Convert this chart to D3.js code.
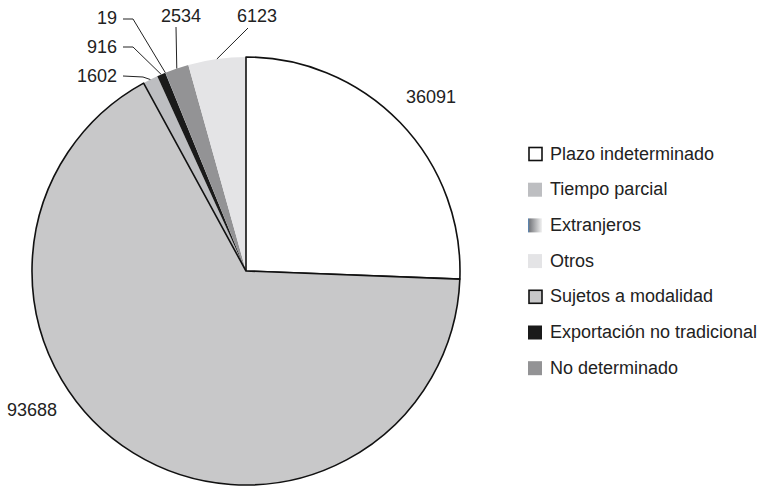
<!DOCTYPE html>
<html><head><meta charset="utf-8">
<script src="https://cdn.jsdelivr.net/npm/d3@7"></script>
<style>body{margin:0;background:#fff}svg{display:block;font-family:"Liberation Sans",Arial,sans-serif}</style>
</head><body><svg id="c" width="765" height="489"></svg>
<script>
// pie order (clockwise from 12 o'clock)
const categories = ["Plazo indeterminado","Sujetos a modalidad","Tiempo parcial","Exportación no tradicional","Extranjeros","No determinado","Otros"];
const values = [36091, 93688, 1602, 916, 19, 2534, 6123];
const legendOrder = ["Plazo indeterminado","Tiempo parcial","Extranjeros","Otros","Sujetos a modalidad","Exportación no tradicional","No determinado"];

const fills = {
  "Plazo indeterminado":"#ffffff",
  "Sujetos a modalidad":"#c8c8c9",
  "Tiempo parcial":"#bdbec1",
  "Exportación no tradicional":"#1a1a1a",
  "Extranjeros":"url(#gExt)",
  "No determinado":"#939395",
  "Otros":"#e4e4e6"
};
const stroked = {"Plazo indeterminado":true,"Sujetos a modalidad":true};

const svg = d3.select("#c");
const defs = svg.append("defs");
const g = defs.append("linearGradient").attr("id","gExt").attr("x1","0").attr("x2","1").attr("y1","0").attr("y2","0");
g.append("stop").attr("offset","0%").attr("stop-color","#4f86c0");
g.append("stop").attr("offset","12%").attr("stop-color","#7a7c80");
g.append("stop").attr("offset","100%").attr("stop-color","#f2f2f2");

const cx = 246, cy = 271, R = 214;
const data = categories.map((c,i)=>({cat:c, v:values[i]}));
const pie = d3.pie().sort(null).value(d=>d.v).startAngle(0).endAngle(2*Math.PI);
const arcs = pie(data);
const arc = d3.arc().innerRadius(0).outerRadius(R);
const pg = svg.append("g").attr("transform",`translate(${cx},${cy})`);

// unstroked slices first, stroked on top
const order = arcs.slice().sort((a,b)=>(stroked[a.data.cat]?1:0)-(stroked[b.data.cat]?1:0));
pg.selectAll("path.s").data(order).join("path").attr("class","s")
  .attr("d",arc)
  .attr("fill",d=>fills[d.data.cat])
  .attr("stroke",d=>stroked[d.data.cat]?"#111":"none")
  .attr("stroke-width",1.6).attr("stroke-linejoin","round");

const fmt = d3.format("d");
const edge = a => { const m=(a.startAngle+a.endAngle)/2; return [cx+R*Math.sin(m), cy-R*Math.cos(m)]; };

// label layout: per category -> text pos/anchor and leader path points
const labelLayout = {
  "Plazo indeterminado":{x:431,y:103,anchor:"middle",pts:null},
  "Sujetos a modalidad":{x:32,y:416,anchor:"middle",pts:null},
  "Tiempo parcial":{x:117,y:82,anchor:"end",pts:[[123,76],[143,77]]},
  "Exportación no tradicional":{x:117,y:53,anchor:"end",pts:[[123,47],[133,47]]},
  "Extranjeros":{x:117,y:24,anchor:"end",pts:[[123,19],[133,19]]},
  "No determinado":{x:181,y:22,anchor:"middle",pts:[[176,27]]},
  "Otros":{x:257,y:22,anchor:"middle",pts:[[248,28]]}
};
arcs.forEach(a=>{
  const L = labelLayout[a.data.cat];
  if (L.pts){
    const p = L.pts.concat([edge(a)]);
    svg.append("path").attr("d",d3.line()(p)).attr("fill","none").attr("stroke","#222").attr("stroke-width",1);
  }
  svg.append("text").attr("x",L.x).attr("y",L.y).attr("text-anchor",L.anchor)
    .attr("font-size",18).attr("fill","#222").text(fmt(a.data.v));
});

// legend
const lg = svg.append("g");
const y0 = 147, step = 35.7;
legendOrder.forEach((c,i)=>{
  const y = y0 + i*step;
  const st = stroked[c];
  lg.append("rect").attr("x", st?529:528).attr("y", st?y+0.5:y).attr("width", st?13:14).attr("height", st?13:14)
    .attr("fill",fills[c]).attr("stroke",st?"#111":"none").attr("stroke-width",1.6);
  lg.append("text").attr("x",550).attr("y",y+12.5).attr("font-size",18).attr("fill","#222").text(c);
});
</script></body></html>
